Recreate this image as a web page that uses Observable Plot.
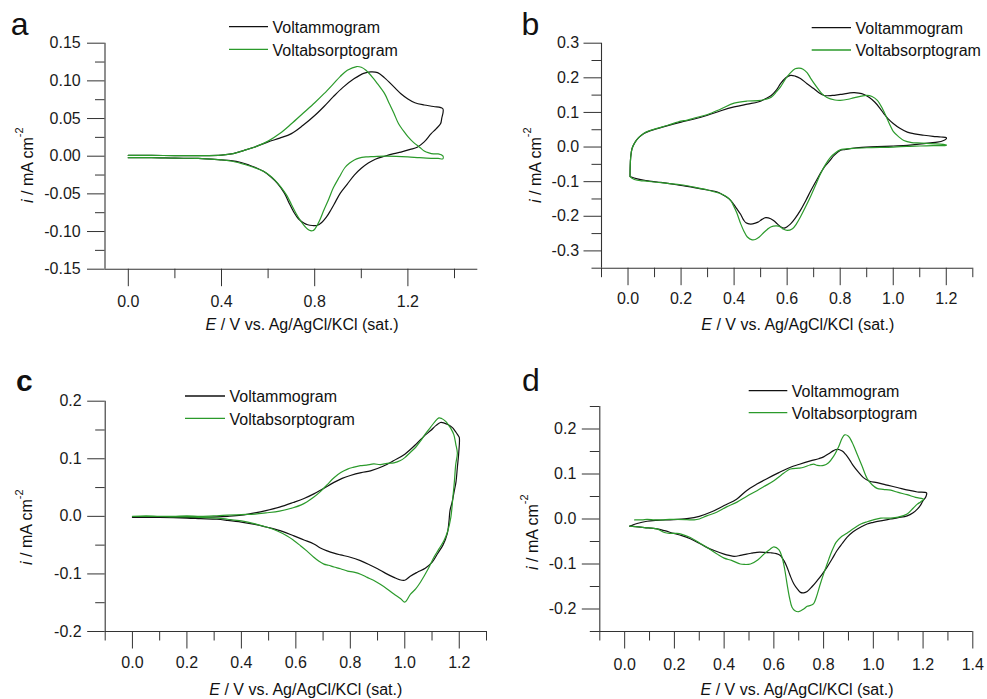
<!DOCTYPE html>
<html>
<head>
<meta charset="utf-8">
<script src="https://cdn.jsdelivr.net/npm/d3@7"></script>
<script src="https://cdn.jsdelivr.net/npm/@observablehq/plot@0.6"></script>
<style>
  html, body { margin: 0; padding: 0; background: #fff; }
  #fig { position: relative; width: 987px; height: 699px; background: #fff; overflow: hidden; }
  #fig svg { position: absolute; }
</style>
</head>
<body>
<div id="fig"></div>
<script>
// ---------- legend / axis texts ----------
const seriesNames = ["Voltammogram", "Voltabsorptogram"];
const panelLetters = ["a", "b", "c", "d"];
const xTitleRest = " / V vs. Ag/AgCl/KCl (sat.)";

// ---------- tick values ----------
const aXMajor = [0, 0.4, 0.8, 1.2];
const aXMinor = [0.2, 0.6, 1.0, 1.4];
const aYMajor = [-0.15, -0.10, -0.05, 0, 0.05, 0.10, 0.15];
const aYMinor = [-0.125, -0.075, -0.025, 0.025, 0.075, 0.125];

const bXMajor = [0, 0.2, 0.4, 0.6, 0.8, 1.0, 1.2];
const bXMinor = [-0.1, 0.1, 0.3, 0.5, 0.7, 0.9, 1.1, 1.3];
const bYMajor = [-0.3, -0.2, -0.1, 0, 0.1, 0.2, 0.3];
const bYMinor = [-0.35, -0.25, -0.15, -0.05, 0.05, 0.15, 0.25];

const cXMajor = [0, 0.2, 0.4, 0.6, 0.8, 1.0, 1.2];
const cXMinor = [-0.1, 0.1, 0.3, 0.5, 0.7, 0.9, 1.1, 1.3];
const cYMajor = [-0.2, -0.1, 0, 0.1, 0.2];
const cYMinor = [-0.15, -0.05, 0.05, 0.15];

const dXMajor = [0, 0.2, 0.4, 0.6, 0.8, 1.0, 1.2, 1.4];
const dXMinor = [-0.1, 0.1, 0.3, 0.5, 0.7, 0.9, 1.1, 1.3];
const dYMajor = [-0.2, -0.1, 0, 0.1, 0.2];
const dYMinor = [-0.25, -0.15, -0.05, 0.05, 0.15, 0.25];

// ---------- data: [E (V), i (mA cm^-2)] in scan order ----------
const aVolt = [[0.00,0.001],[0.10,0.001],[0.20,0.0008],[0.30,0.0008],[0.40,0.0015],[0.45,0.0035],[0.50,0.008],[0.55,0.013],[0.60,0.019],[0.65,0.024],[0.70,0.030],[0.75,0.041],[0.80,0.054],[0.84,0.066],[0.88,0.079],[0.92,0.091],[0.97,0.103],[1.01,0.110],[1.04,0.112],[1.07,0.111],[1.10,0.104],[1.14,0.092],[1.17,0.083],[1.20,0.076],[1.23,0.071],[1.27,0.068],[1.31,0.066],[1.35,0.063],
  [1.345,0.050],[1.34,0.043],[1.32,0.036],[1.30,0.030],[1.27,0.019],[1.24,0.012],[1.21,0.009],[1.17,0.0055],[1.14,0.0035],[1.10,0.000],[1.06,-0.004],[1.03,-0.009],[1.00,-0.016],[0.97,-0.025],[0.94,-0.037],[0.91,-0.049],[0.89,-0.060],[0.87,-0.071],[0.85,-0.081],[0.83,-0.088],[0.81,-0.092],[0.79,-0.092],[0.77,-0.091],[0.755,-0.089],[0.73,-0.083],[0.71,-0.074],[0.69,-0.062],[0.67,-0.049],[0.64,-0.036],[0.61,-0.027],[0.58,-0.020],[0.553,-0.016],[0.52,-0.012],[0.48,-0.008],[0.44,-0.006],[0.40,-0.005],[0.30,-0.003],[0.20,-0.0026],[0.10,-0.002],[0.00,-0.002]];
const aAbs = [[0.00,0.001],[0.10,0.001],[0.20,0.0008],[0.30,0.0008],[0.40,0.0015],[0.45,0.0035],[0.50,0.008],[0.55,0.013],[0.60,0.020],[0.65,0.030],[0.70,0.043],[0.75,0.057],[0.80,0.071],[0.84,0.083],[0.88,0.096],[0.91,0.106],[0.94,0.114],[0.98,0.119],[1.00,0.118],[1.02,0.114],[1.05,0.104],[1.07,0.096],[1.10,0.083],[1.12,0.070],[1.14,0.057],[1.16,0.043],[1.18,0.034],[1.20,0.026],[1.225,0.018],[1.25,0.012],[1.27,0.007],[1.29,0.0044],[1.31,0.003],[1.33,0.003],[1.35,0.0005],
  [1.35,-0.0035],[1.33,-0.003],[1.30,-0.0028],[1.25,-0.002],[1.20,-0.001],[1.15,-0.0003],[1.10,0.000],[1.05,-0.0005],[1.02,-0.001],[0.99,-0.0025],[0.97,-0.005],[0.95,-0.009],[0.93,-0.015],[0.905,-0.028],[0.88,-0.042],[0.86,-0.057],[0.84,-0.071],[0.82,-0.086],[0.80,-0.097],[0.79,-0.099],[0.775,-0.098],[0.76,-0.094],[0.74,-0.086],[0.72,-0.076],[0.70,-0.064],[0.68,-0.052],[0.655,-0.041],[0.63,-0.032],[0.60,-0.024],[0.58,-0.020],[0.54,-0.015],[0.50,-0.011],[0.45,-0.007],[0.40,-0.005],[0.30,-0.003],[0.20,-0.0026],[0.10,-0.002],[0.00,-0.002]];

const bVolt = [[0.0075,-0.085],[0.008,-0.06],[0.01,-0.03],[0.015,-0.005],[0.025,0.012],[0.04,0.027],[0.06,0.039],[0.08,0.046],[0.11,0.053],[0.15,0.062],[0.20,0.072],[0.25,0.081],[0.30,0.092],[0.35,0.105],[0.40,0.116],[0.45,0.124],[0.49,0.130],[0.52,0.140],[0.54,0.149],[0.56,0.165],[0.575,0.183],[0.595,0.200],[0.613,0.207],[0.63,0.205],[0.65,0.198],[0.675,0.183],[0.70,0.169],[0.72,0.157],[0.74,0.149],[0.77,0.149],[0.80,0.152],[0.85,0.157],[0.87,0.156],[0.89,0.152],[0.91,0.143],[0.93,0.130],[0.95,0.112],[0.965,0.096],[0.98,0.082],[1.00,0.068],[1.025,0.054],[1.053,0.043],[1.08,0.038],[1.116,0.034],[1.15,0.031],[1.18,0.029],[1.20,0.027],
  [1.20,0.024],[1.19,0.019],[1.166,0.014],[1.14,0.012],[1.116,0.010],[1.08,0.007],[1.053,0.005],[1.00,0.003],[0.94,0.001],[0.86,-0.002],[0.82,-0.007],[0.80,-0.010],[0.777,-0.024],[0.76,-0.040],[0.74,-0.058],[0.715,-0.090],[0.69,-0.125],[0.67,-0.155],[0.65,-0.183],[0.63,-0.206],[0.613,-0.222],[0.60,-0.230],[0.588,-0.234],[0.575,-0.230],[0.563,-0.222],[0.55,-0.213],[0.538,-0.207],[0.519,-0.204],[0.505,-0.209],[0.49,-0.217],[0.47,-0.222],[0.456,-0.222],[0.445,-0.219],[0.437,-0.212],[0.425,-0.195],[0.41,-0.178],[0.395,-0.162],[0.38,-0.149],[0.36,-0.139],[0.337,-0.130],[0.30,-0.124],[0.25,-0.117],[0.20,-0.111],[0.15,-0.105],[0.11,-0.101],[0.07,-0.097],[0.035,-0.092],[0.0075,-0.085]];
const bAbs = [[0.0075,-0.085],[0.008,-0.06],[0.01,-0.03],[0.015,-0.005],[0.025,0.012],[0.04,0.027],[0.06,0.040],[0.08,0.047],[0.11,0.054],[0.15,0.063],[0.20,0.075],[0.22,0.077],[0.25,0.084],[0.30,0.094],[0.35,0.110],[0.40,0.127],[0.45,0.133],[0.49,0.134],[0.52,0.138],[0.54,0.144],[0.56,0.160],[0.575,0.174],[0.595,0.198],[0.613,0.215],[0.63,0.226],[0.645,0.228],[0.66,0.225],[0.675,0.215],[0.69,0.197],[0.707,0.178],[0.73,0.155],[0.75,0.143],[0.78,0.136],[0.80,0.135],[0.83,0.138],[0.85,0.142],[0.88,0.147],[0.90,0.149],[0.92,0.146],[0.94,0.135],[0.96,0.110],[0.977,0.082],[0.99,0.060],[1.00,0.045],[1.02,0.030],[1.04,0.019],[1.07,0.013],[1.09,0.012],[1.14,0.010],[1.20,0.006],
  [1.20,0.005],[1.15,0.004],[1.10,0.003],[1.05,0.002],[1.00,0.000],[0.90,-0.002],[0.85,-0.004],[0.80,-0.008],[0.78,-0.018],[0.764,-0.029],[0.745,-0.050],[0.726,-0.077],[0.71,-0.105],[0.69,-0.140],[0.67,-0.172],[0.65,-0.202],[0.635,-0.222],[0.62,-0.236],[0.60,-0.241],[0.585,-0.237],[0.575,-0.231],[0.56,-0.228],[0.538,-0.231],[0.525,-0.238],[0.513,-0.246],[0.495,-0.260],[0.48,-0.267],[0.468,-0.268],[0.45,-0.260],[0.437,-0.243],[0.425,-0.222],[0.41,-0.190],[0.395,-0.165],[0.387,-0.154],[0.37,-0.143],[0.35,-0.135],[0.30,-0.124],[0.25,-0.116],[0.20,-0.109],[0.15,-0.105],[0.10,-0.101],[0.06,-0.098],[0.035,-0.096],[0.015,-0.090],[0.0075,-0.085]];

const cVolt = [[0.00,-0.002],[0.10,-0.002],[0.20,-0.002],[0.31,-0.001],[0.35,0.000],[0.40,0.002],[0.45,0.006],[0.49,0.010],[0.54,0.016],[0.59,0.024],[0.63,0.031],[0.666,0.039],[0.70,0.048],[0.74,0.059],[0.77,0.066],[0.80,0.071],[0.84,0.076],[0.874,0.079],[0.92,0.087],[0.96,0.097],[1.00,0.108],[1.045,0.127],[1.07,0.139],[1.095,0.149],[1.115,0.158],[1.131,0.163],[1.145,0.162],[1.16,0.159],[1.175,0.154],[1.185,0.148],[1.195,0.141],[1.20,0.137],
  [1.198,0.110],[1.193,0.085],[1.188,0.060],[1.18,0.040],[1.174,0.025],[1.166,0.010],[1.162,-0.010],[1.156,-0.030],[1.14,-0.050],[1.12,-0.065],[1.10,-0.080],[1.075,-0.090],[1.046,-0.097],[1.02,-0.104],[1.00,-0.111],[0.98,-0.110],[0.96,-0.106],[0.93,-0.099],[0.90,-0.091],[0.87,-0.084],[0.837,-0.077],[0.80,-0.071],[0.764,-0.067],[0.74,-0.064],[0.715,-0.060],[0.69,-0.055],[0.666,-0.048],[0.63,-0.041],[0.593,-0.034],[0.55,-0.026],[0.495,-0.019],[0.45,-0.014],[0.40,-0.010],[0.35,-0.007],[0.31,-0.005],[0.25,-0.004],[0.20,-0.003],[0.10,-0.002],[0.00,-0.002]];
const cAbs = [[0.00,0.000],[0.05,0.001],[0.10,0.000],[0.15,0.000],[0.20,0.001],[0.25,0.000],[0.31,0.001],[0.35,0.002],[0.40,0.003],[0.45,0.004],[0.49,0.006],[0.54,0.009],[0.59,0.015],[0.62,0.020],[0.64,0.025],[0.665,0.033],[0.69,0.043],[0.715,0.055],[0.74,0.067],[0.765,0.076],[0.79,0.082],[0.81,0.085],[0.837,0.088],[0.86,0.089],[0.886,0.091],[0.91,0.090],[0.935,0.092],[0.96,0.093],[0.984,0.097],[1.00,0.102],[1.02,0.111],[1.04,0.120],[1.058,0.131],[1.075,0.143],[1.095,0.155],[1.11,0.164],[1.125,0.171],[1.135,0.170],[1.15,0.165],[1.16,0.159],[1.17,0.152],[1.18,0.142],[1.187,0.126],[1.193,0.110],
  [1.187,0.090],[1.182,0.060],[1.176,0.030],[1.169,-0.002],[1.158,-0.025],[1.144,-0.042],[1.125,-0.057],[1.107,-0.071],[1.085,-0.092],[1.058,-0.114],[1.04,-0.126],[1.021,-0.135],[1.00,-0.149],[0.985,-0.143],[0.96,-0.135],[0.935,-0.126],[0.91,-0.118],[0.885,-0.111],[0.862,-0.106],[0.84,-0.101],[0.813,-0.097],[0.79,-0.095],[0.764,-0.091],[0.74,-0.088],[0.72,-0.085],[0.703,-0.083],[0.685,-0.078],[0.666,-0.071],[0.64,-0.060],[0.617,-0.051],[0.59,-0.041],[0.568,-0.034],[0.53,-0.025],[0.495,-0.019],[0.45,-0.013],[0.40,-0.008],[0.35,-0.005],[0.31,-0.003],[0.25,-0.002],[0.20,-0.001],[0.15,-0.001],[0.10,0.000],[0.05,0.000],[0.00,0.000]];

const dVolt = [[0.02,-0.016],[0.05,-0.010],[0.09,-0.005],[0.13,-0.003],[0.197,-0.0015],[0.25,0.001],[0.30,0.006],[0.35,0.016],[0.40,0.030],[0.45,0.044],[0.49,0.063],[0.53,0.077],[0.57,0.089],[0.62,0.103],[0.667,0.115],[0.70,0.121],[0.747,0.129],[0.78,0.134],[0.80,0.138],[0.82,0.145],[0.84,0.152],[0.855,0.155],[0.875,0.151],[0.888,0.144],[0.905,0.131],[0.92,0.118],[0.94,0.104],[0.96,0.092],[0.985,0.084],[1.015,0.081],[1.05,0.076],[1.096,0.070],[1.14,0.064],[1.177,0.060],[1.214,0.058],
  [1.214,0.054],[1.21,0.048],[1.20,0.041],[1.19,0.031],[1.177,0.022],[1.16,0.014],[1.136,0.007],[1.10,0.003],[1.07,0.000],[1.03,-0.004],[1.00,-0.0074],[0.975,-0.011],[0.95,-0.018],[0.92,-0.028],[0.894,-0.041],[0.874,-0.055],[0.854,-0.070],[0.834,-0.089],[0.814,-0.107],[0.794,-0.123],[0.774,-0.137],[0.754,-0.150],[0.734,-0.161],[0.72,-0.164],[0.707,-0.163],[0.695,-0.156],[0.68,-0.144],[0.665,-0.125],[0.653,-0.107],[0.64,-0.092],[0.626,-0.081],[0.61,-0.077],[0.586,-0.075],[0.56,-0.074],[0.532,-0.074],[0.51,-0.076],[0.49,-0.078],[0.465,-0.081],[0.44,-0.083],[0.42,-0.081],[0.40,-0.078],[0.36,-0.070],[0.33,-0.063],[0.30,-0.054],[0.264,-0.044],[0.23,-0.037],[0.197,-0.032],[0.16,-0.026],[0.13,-0.022],[0.08,-0.019],[0.02,-0.016]];
const dAbs = [[0.04,-0.002],[0.07,-0.002],[0.09,-0.001],[0.12,-0.002],[0.15,-0.002],[0.18,-0.001],[0.21,-0.001],[0.25,-0.0015],[0.28,-0.002],[0.30,0.000],[0.33,0.007],[0.37,0.015],[0.41,0.027],[0.45,0.037],[0.49,0.050],[0.532,0.063],[0.56,0.072],[0.60,0.085],[0.63,0.098],[0.667,0.111],[0.70,0.113],[0.72,0.115],[0.745,0.120],[0.76,0.122],[0.775,0.119],[0.80,0.119],[0.82,0.125],[0.84,0.139],[0.86,0.160],[0.875,0.180],[0.885,0.187],[0.90,0.184],[0.915,0.170],[0.935,0.144],[0.955,0.117],[0.975,0.090],[0.995,0.076],[1.015,0.068],[1.04,0.066],[1.07,0.064],[1.10,0.059],[1.136,0.054],[1.17,0.048],[1.203,0.044],
  [1.19,0.038],[1.177,0.033],[1.16,0.024],[1.136,0.011],[1.10,0.004],[1.07,0.002],[1.03,0.002],[1.00,-0.002],[0.975,-0.006],[0.95,-0.011],[0.93,-0.018],[0.908,-0.026],[0.89,-0.033],[0.868,-0.041],[0.85,-0.052],[0.84,-0.063],[0.827,-0.080],[0.814,-0.100],[0.80,-0.122],[0.787,-0.144],[0.77,-0.175],[0.76,-0.188],[0.747,-0.192],[0.734,-0.194],[0.72,-0.200],[0.70,-0.206],[0.685,-0.204],[0.673,-0.196],[0.663,-0.175],[0.653,-0.144],[0.643,-0.110],[0.633,-0.085],[0.62,-0.068],[0.60,-0.062],[0.585,-0.067],[0.56,-0.078],[0.535,-0.091],[0.506,-0.100],[0.48,-0.101],[0.465,-0.100],[0.43,-0.092],[0.40,-0.087],[0.37,-0.077],[0.33,-0.063],[0.30,-0.053],[0.264,-0.041],[0.23,-0.034],[0.21,-0.032],[0.18,-0.032],[0.16,-0.030],[0.13,-0.022],[0.08,-0.019],[0.02,-0.016]];

// ---------- styling / layout ----------
const FONT = "Arial, 'Liberation Sans', Helvetica, sans-serif";
const BLACK = "#111111";
const GREEN = "#2b9a2b";
const AXIS = "#333333";

const panels = [
  {letter: panelLetters[0], bold: false, left: 0, top: 0, width: 490, height: 340,
   m: [42.7, 12.7, 71.3, 104.5], xDom: [-0.1, 1.5], yDom: [-0.15, 0.15],
   xMaj: aXMajor, xMin: aXMinor, yMaj: aYMajor, yMin: aYMinor, yDec: 2, xPad: 9, yPad: 6.8,
   volt: aVolt, abs: aAbs,
   letterPos: [10.7, 35], legend: [229, 268, 26.7, 49.3], yTitle: [32.5, 203], xTitle: [302, 330]},
  {letter: panelLetters[1], bold: false, left: 490, top: 0, width: 497, height: 340,
   m: [42.7, 14.7, 72.3, 111], xDom: [-0.1, 1.3], yDom: [-0.35, 0.3],
   xMaj: bXMajor, xMin: bXMinor, yMaj: bYMajor, yMin: bYMinor, yDec: 1, xPad: 6.5, yPad: 4.8,
   volt: bVolt, abs: bAbs,
   letterPos: [521.5, 35], legend: [811.7, 851, 27.7, 50], yTitle: [540.5, 203], xTitle: [797.8, 330]},
  {letter: panelLetters[2], bold: true, left: 0, top: 350, width: 490, height: 349,
   m: [50.7, 4, 68, 104.7], xDom: [-0.1, 1.3], yDom: [-0.2, 0.2],
   xMaj: cXMajor, xMin: cXMinor, yMaj: cYMajor, yMin: cYMinor, yDec: 1, xPad: 8, yPad: 6,
   volt: cVolt, abs: cAbs,
   letterPos: [16, 391], legend: [185, 225, 396, 418.3], yTitle: [32, 565], xTitle: [305.8, 695]},
  {letter: panelLetters[3], bold: false, left: 490, top: 350, width: 497, height: 349,
   m: [56, 14.7, 68, 109.3], xDom: [-0.1, 1.4], yDom: [-0.25, 0.25],
   xMaj: dXMajor, xMin: dXMinor, yMaj: dYMajor, yMin: dYMinor, yDec: 1, xPad: 9.5, yPad: 6,
   volt: dVolt, abs: dAbs,
   letterPos: [522, 391], legend: [748.7, 787.3, 390.7, 412.7], yTitle: [537.5, 570], xTitle: [797, 695]}
];

const fig = document.getElementById("fig");

for (const p of panels) {
  const svg = Plot.plot({
    width: p.width, height: p.height,
    marginTop: p.m[0], marginRight: p.m[1], marginBottom: p.m[2], marginLeft: p.m[3],
    x: {domain: p.xDom},
    y: {domain: p.yDom},
    style: {fontSize: "16px", fontFamily: FONT, color: "#1a1a1a", background: "transparent", overflow: "visible"},
    marks: [
      Plot.axisX(p.xMaj, {anchor: "bottom", tickSize: 17.5, tickPadding: p.xPad, stroke: AXIS, tickFormat: d => d.toFixed(1), label: null}),
      Plot.axisX(p.xMin, {anchor: "bottom", tickSize: 9.5, stroke: AXIS, tickFormat: () => "", label: null}),
      Plot.axisY(p.yMaj, {anchor: "left", tickSize: 17.5, tickPadding: p.yPad, stroke: AXIS, tickFormat: d => d.toFixed(p.yDec), label: null}),
      Plot.axisY(p.yMin, {anchor: "left", tickSize: 9.5, stroke: AXIS, tickFormat: () => "", label: null}),
      Plot.ruleY([p.yDom[0]], {stroke: AXIS, strokeWidth: 1.1}),
      Plot.ruleX([p.xDom[0]], {stroke: AXIS, strokeWidth: 1.1}),
      Plot.line(p.volt, {x: d => d[0], y: d => d[1], stroke: BLACK, strokeWidth: 1.2, curve: "catmull-rom"}),
      Plot.line(p.abs, {x: d => d[0], y: d => d[1], stroke: GREEN, strokeWidth: 1.2, curve: "catmull-rom"})
    ]
  });
  svg.style.left = p.left + "px";
  svg.style.top = p.top + "px";
  fig.appendChild(svg);
}

// ---------- overlay: panel letters, legends, axis titles ----------
const ov = d3.select(fig).append("svg")
  .attr("width", 987).attr("height", 699)
  .style("left", "0px").style("top", "0px")
  .style("font-family", FONT).style("pointer-events", "none");

for (const p of panels) {
  ov.append("text")
    .attr("x", p.letterPos[0]).attr("y", p.letterPos[1])
    .attr("font-size", p.bold ? 30 : 32)
    .attr("font-weight", p.bold ? "bold" : "normal")
    .attr("fill", "#111")
    .text(p.letter);

  const [x0, x1, y0, y1] = p.legend;
  [[y0, BLACK, seriesNames[0]], [y1, GREEN, seriesNames[1]]].forEach(([yy, col, name]) => {
    ov.append("line").attr("x1", x0).attr("x2", x1).attr("y1", yy).attr("y2", yy)
      .attr("stroke", col).attr("stroke-width", 1.3);
    ov.append("text").attr("x", x1 + 4.5).attr("y", yy + 6.2)
      .attr("font-size", 16).attr("fill", "#111").text(name);
  });

  const yt = ov.append("text")
    .attr("transform", `translate(${p.yTitle[0]},${p.yTitle[1]}) rotate(-90)`)
    .attr("font-size", 16).attr("fill", "#111");
  yt.append("tspan").attr("font-style", "italic").text("i");
  yt.append("tspan").text(" / mA cm");
  yt.append("tspan").attr("font-size", 11).attr("dy", -9.5).text("-2");

  const xt = ov.append("text")
    .attr("x", p.xTitle[0]).attr("y", p.xTitle[1])
    .attr("text-anchor", "middle")
    .attr("font-size", 16).attr("fill", "#111");
  xt.append("tspan").attr("font-style", "italic").text("E");
  xt.append("tspan").text(xTitleRest);
}
</script>
</body>
</html>
